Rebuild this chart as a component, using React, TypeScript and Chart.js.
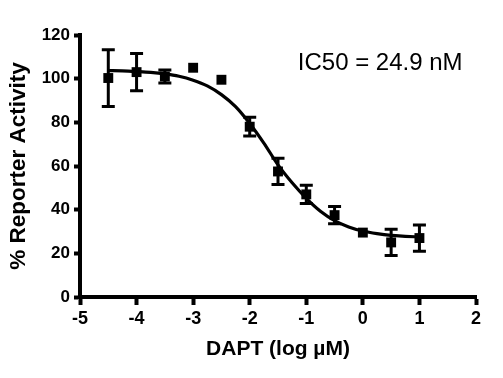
import React, { useEffect, useRef } from "react";
import { Chart, registerables } from "chart.js";

Chart.register(...registerables);

// Measured data points (log µM concentration vs % reporter activity)
const logConc = [-4.5, -4, -3.5, -3, -2.5, -2, -1.5, -1, -0.5, 0, 0.5, 1];
const activity = [100.3, 103, 101, 105, 99.5, 78, 57.5, 47, 37.5, 29.5, 25, 27];
const errorSD = [13, 8.5, 3, 0, 0, 4.3, 6, 4.2, 4, 0, 6, 6];

// Fitted curve
const curveX = [-4.5, -4.25, -4, -3.75, -3.5, -3.25, -3, -2.75, -2.5, -2.25, -2, -1.75, -1.5, -1.25, -1, -0.75, -0.5, -0.25, 0, 0.25, 0.5, 0.75, 1];
const curveY = [103.7, 103.6, 103.3, 102.9, 102.2, 101.1, 99.3, 96.7, 92.7, 87.2, 79.5, 70.5, 60.5, 52.3, 45.2, 39.3, 35.0, 32.1, 30.2, 29.0, 28.2, 27.8, 27.5];

const xTicks = [-5, -4, -3, -2, -1, 0, 1, 2];
const yTicks = [0, 20, 40, 60, 80, 100, 120];

const annotationText = "IC50 = 24.9 nM";
const xTitle = "DAPT (log µM)";
const yTitle = "% Reporter Activity";

const FONT = '"Liberation Sans", Arial, Helvetica, sans-serif';

const errorBarPlugin = {
  id: "errorBars",
  afterDatasetsDraw(chart: any) {
    const xs = chart.scales.x;
    const ys = chart.scales.y;
    const ctx = chart.ctx;
    ctx.save();
    ctx.strokeStyle = "#000";
    ctx.lineWidth = 3;
    const cap = 6.5;
    logConc.forEach((xv, i) => {
      const e = errorSD[i];
      if (!e) return;
      const px = xs.getPixelForValue(xv);
      const top = ys.getPixelForValue(activity[i] + e);
      const bot = ys.getPixelForValue(activity[i] - e);
      ctx.beginPath();
      ctx.moveTo(px, top);
      ctx.lineTo(px, bot);
      ctx.moveTo(px - cap, top);
      ctx.lineTo(px + cap, top);
      ctx.moveTo(px - cap, bot);
      ctx.lineTo(px + cap, bot);
      ctx.stroke();
    });
    // annotation
    ctx.fillStyle = "#000";
    ctx.font = `24px ${FONT}`;
    ctx.textAlign = "left";
    ctx.textBaseline = "alphabetic";
    ctx.fillText(annotationText, xs.getPixelForValue(-1.15), ys.getPixelForValue(104));
    ctx.restore();
  },
};

export default function App() {
  const ref = useRef<HTMLCanvasElement>(null);
  useEffect(() => {
    if (!ref.current) return;
    Chart.defaults.font.family = FONT;
    Chart.defaults.color = "#000";
    const chart = new Chart(ref.current, {
      type: "scatter",
      data: {
        datasets: [
          {
            label: "data",
            data: logConc.map((x, i) => ({ x, y: activity[i] })),
            pointStyle: "rect",
            pointRadius: 7,
            backgroundColor: "#000",
            borderColor: "#000",
            borderWidth: 0,
            showLine: false,
          },
          {
            label: "fit",
            data: curveX.map((x, i) => ({ x, y: curveY[i] })),
            showLine: true,
            pointRadius: 0,
            borderColor: "#000",
            borderWidth: 3.2,
            cubicInterpolationMode: "monotone",
            fill: false,
          },
        ],
      },
      options: {
        animation: false,
        responsive: false,
        maintainAspectRatio: false,
        layout: { padding: { left: 0, right: 27, top: 35, bottom: 0 } },
        plugins: {
          legend: { display: false },
          tooltip: { enabled: false },
        },
        scales: {
          x: {
            type: "linear",
            min: -5,
            max: 2,
            afterFit: (s: any) => {
              s.height = 81;
            },
            afterBuildTicks: (s: any) => {
              s.ticks = xTicks.map((v) => ({ value: v }));
            },
            ticks: {
              color: "#000",
              font: { size: 18, weight: "bold" },
              padding: 3,
              maxRotation: 0,
            },
            grid: {
              display: true,
              drawOnChartArea: false,
              drawTicks: true,
              tickLength: 8,
              tickWidth: 4,
              tickColor: "#000",
              color: "#000",
            },
            border: { display: true, color: "#000", width: 4 },
            title: {
              display: true,
              text: xTitle,
              color: "#000",
              font: { size: 21, weight: "bold" },
              padding: { top: 0, bottom: 16 },
            },
          },
          y: {
            type: "linear",
            min: 0,
            max: 120,
            afterFit: (s: any) => {
              s.width = 80;
            },
            afterBuildTicks: (s: any) => {
              s.ticks = yTicks.map((v) => ({ value: v }));
            },
            ticks: {
              color: "#000",
              font: { size: 17, weight: "bold" },
              padding: 4,
            },
            grid: {
              display: true,
              drawOnChartArea: false,
              drawTicks: true,
              tickLength: 6,
              tickWidth: 4,
              tickColor: "#000",
              color: "#000",
            },
            border: { display: true, color: "#000", width: 4 },
            title: {
              display: true,
              text: yTitle,
              color: "#000",
              font: { size: 22.5, weight: "bold" },
              padding: { top: 5, bottom: 0 },
            },
          },
        },
      },
      plugins: [errorBarPlugin],
    } as any);
    return () => chart.destroy();
  }, []);
  return (
    <div style={{ position: "fixed", left: 0, top: 0, width: 503, height: 378, background: "#fff" }}>
      <canvas ref={ref} width={503} height={378} style={{ width: 503, height: 378 }} />
    </div>
  );
}
